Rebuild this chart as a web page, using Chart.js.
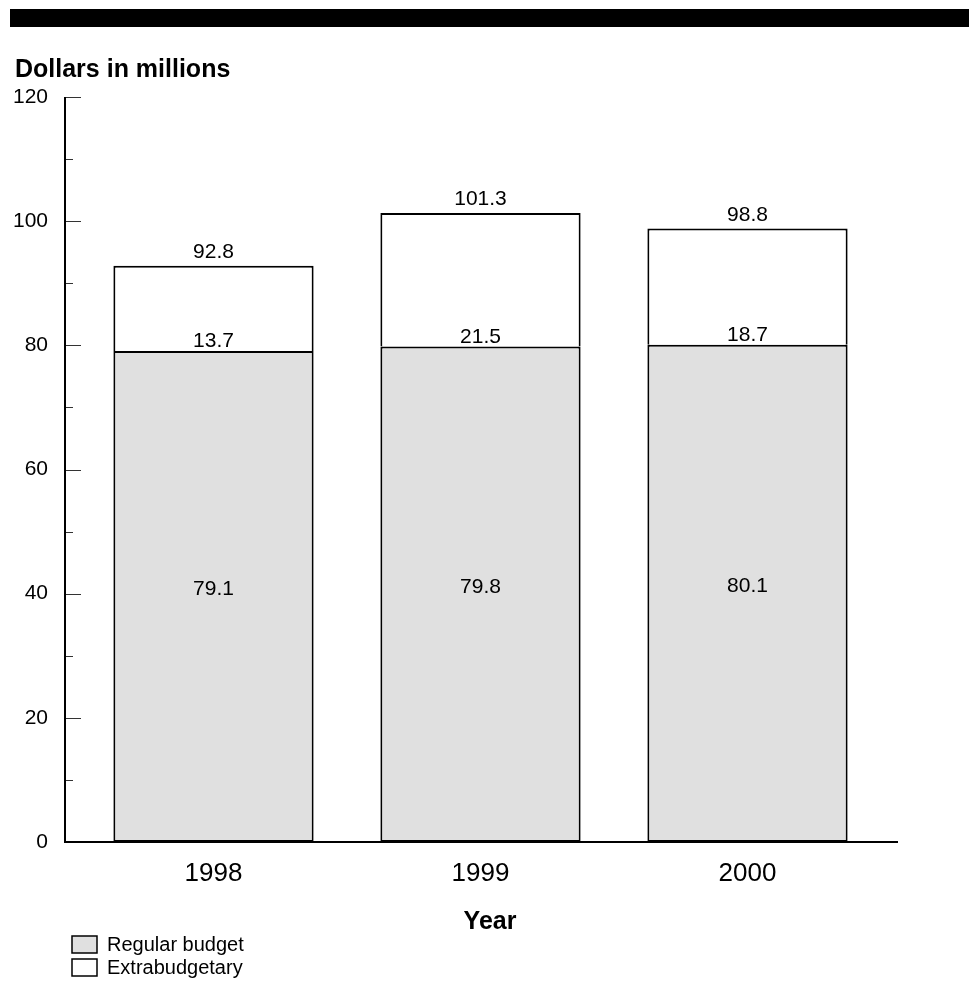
<!DOCTYPE html>
<html>
<head>
<meta charset="utf-8">
<script src="https://cdn.jsdelivr.net/npm/chart.js@4.4.1/dist/chart.umd.min.js"></script>
<style>
  html, body { margin: 0; padding: 0; background: #fff; }
  #wrap { width: 969px; height: 983px; position: relative; }
</style>
</head>
<body>
<div id="wrap"><canvas id="myBar"></canvas></div>
<script>
// chart data
var years = ['1998', '1999', '2000'];
var regularBudget = [79.1, 79.8, 80.1];
var extrabudgetary = [13.7, 21.5, 18.7];
var totals = [92.8, 101.3, 98.8];
var yTicks = [0, 20, 40, 60, 80, 100, 120];

var FONT = "'Liberation Sans', Arial, sans-serif";

// axis lines, inward ticks, labels, title band and legend
var decorations = {
    id: 'decorations',
    afterDatasetsDraw: function (chart) {
        var ctx = chart.ctx;
        var y = chart.scales.y;
        var axisX = 65;
        var axisRight = 898;
        var y0 = y.getPixelForValue(0);
        var yTop = y.getPixelForValue(120);

        ctx.save();

        // value labels on the bars
        var metaReg = chart.getDatasetMeta(0);
        var metaExt = chart.getDatasetMeta(1);
        ctx.fillStyle = '#000';
        ctx.font = '21px ' + FONT;
        ctx.textAlign = 'center';
        metaReg.data.forEach(function (bar, i) {
            ctx.textBaseline = 'middle';
            ctx.fillText(regularBudget[i].toFixed(1), bar.x, (bar.y + bar.base) / 2 - 7);
        });
        metaExt.data.forEach(function (bar, i) {
            ctx.textBaseline = 'alphabetic';
            ctx.fillText(extrabudgetary[i].toFixed(1), bar.x, bar.base - 4);
            ctx.fillText(totals[i].toFixed(1), bar.x, bar.y - 8);
        });

        // inward tick marks
        ctx.strokeStyle = '#333';
        ctx.lineWidth = 1;
        for (var v = 10; v <= 120; v += 10) {
            var py = Math.round(y.getPixelForValue(v)) + 0.5;
            var len = (v % 20 === 0) ? 16 : 8;
            ctx.beginPath();
            ctx.moveTo(axisX, py);
            ctx.lineTo(axisX + len, py);
            ctx.stroke();
        }

        // axis lines
        ctx.strokeStyle = '#000';
        ctx.lineWidth = 2;
        ctx.beginPath();
        ctx.moveTo(axisX, yTop);
        ctx.lineTo(axisX, y0);
        ctx.lineTo(axisRight, y0);
        ctx.stroke();

        // top band and title
        ctx.fillStyle = '#000';
        ctx.fillRect(10, 9, 959, 18);
        ctx.font = 'bold 25px ' + FONT;
        ctx.textAlign = 'left';
        ctx.textBaseline = 'alphabetic';
        ctx.fillText('Dollars in millions', 15, 77);

        // x axis title
        ctx.textAlign = 'center';
        ctx.textBaseline = 'middle';
        ctx.fillText('Year', 490, 922);

        // legend
        ctx.font = '20px ' + FONT;
        ctx.textAlign = 'left';
        chart.data.datasets.forEach(function (ds, i) {
            var top = 936 + i * 23;
            ctx.fillStyle = ds.backgroundColor;
            ctx.fillRect(72, top, 25, 17);
            ctx.strokeStyle = '#000';
            ctx.lineWidth = 1.5;
            ctx.strokeRect(72, top, 25, 17);
            ctx.fillStyle = '#000';
            ctx.fillText(ds.label, 107, top + 9);
        });

        ctx.restore();
    }
};

var ctx = document.getElementById('myBar').getContext('2d');
var budgetChart = new Chart(ctx, {
    type: 'bar',
    data: {
        labels: years,
        datasets: [{
            label: 'Regular budget',
            data: regularBudget,
            backgroundColor: '#e0e0e0',
            borderColor: '#000',
            borderWidth: 2,
            borderSkipped: false,
        }, {
            label: 'Extrabudgetary',
            data: extrabudgetary,
            backgroundColor: '#ffffff',
            borderColor: '#000',
            borderWidth: 2,
            borderSkipped: 'bottom',
        }]
    },
    options: {
        responsive: true,
        maintainAspectRatio: false,
        animation: false,
        layout: {
            padding: { top: 97, right: 88, left: 0, bottom: 0 }
        },
        datasets: {
            bar: { categoryPercentage: 1, barPercentage: 0.75 }
        },
        scales: {
            x: {
                stacked: true,
                grid: { display: false, drawTicks: false },
                border: { display: false },
                ticks: {
                    color: '#000',
                    padding: 16,
                    font: { family: FONT, size: 26 }
                },
                afterFit: function (scale) { scale.height = 141; }
            },
            y: {
                stacked: true,
                min: 0,
                max: 120,
                afterBuildTicks: function (scale) {
                    scale.ticks = yTicks.map(function (v) { return { value: v }; });
                },
                grid: { display: false, drawTicks: false },
                border: { display: false },
                ticks: {
                    color: '#000',
                    padding: 32,
                    font: { family: FONT, size: 21 }
                },
                afterFit: function (scale) { scale.width = 80; }
            }
        },
        plugins: {
            legend: { display: false },
            title: { display: false },
            tooltip: { enabled: false }
        }
    },
    plugins: [decorations]
});
</script>
</body>
</html>
